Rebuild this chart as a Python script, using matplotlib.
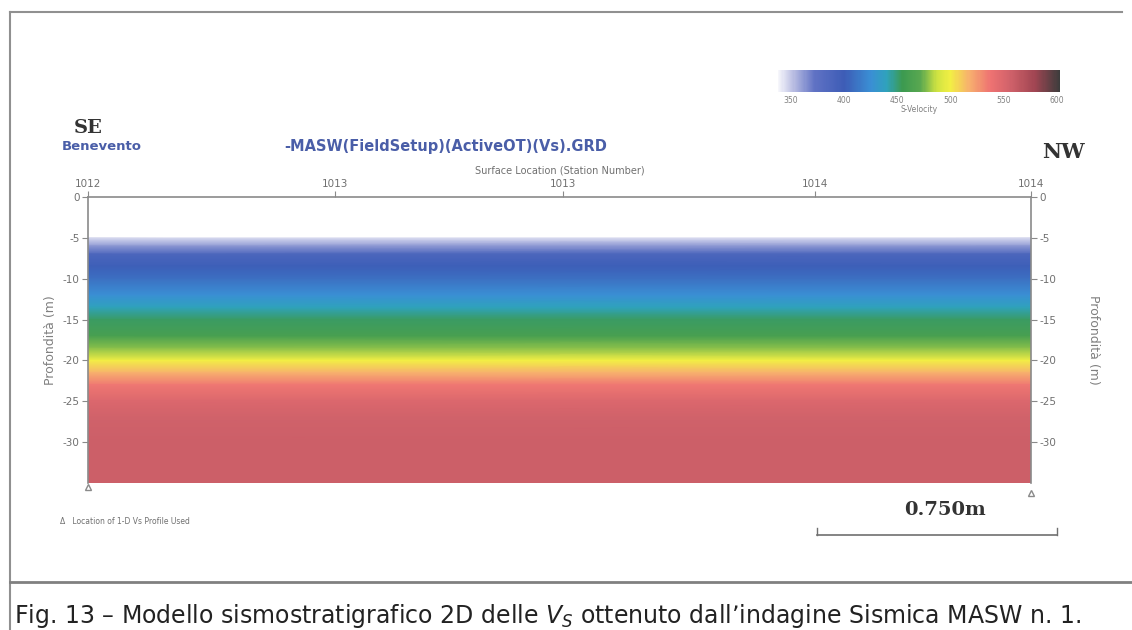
import matplotlib.pyplot as plt
from matplotlib.colors import LinearSegmentedColormap, Normalize
import numpy as np

# profilo Vs (m/s), costante lungo la sezione
profondita = [-5.0, -6.0, -7.0, -8.5, -10.0, -12.0, -13.5, -15.0, -17.0, -18.5,
              -20.0, -21.5, -23.0, -25.0, -27.0, -30.0, -35.0]
vs = [345, 362, 388, 402, 410, 425, 440, 452, 462, 478,
      500, 518, 536, 550, 556, 558, 558]

# stazioni (metri lungo lo stendimento) e etichette come nell'originale
stazioni = [0.0, 3.0]
tick_pos = [0.0, 0.786, 1.511, 2.313, 3.0]
tick_lab = ['1012', '1013', '1013', '1014', '1014']
yticks = [0, -5, -10, -15, -20, -25, -30]
cbar_ticks = [350, 400, 450, 500, 550, 600]

vmin, vmax = 338, 603
nodi = [(338, '#f6f6fb'), (352, '#b9bde2'), (372, '#6072c4'), (400, '#3d5cb6'),
        (425, '#3a8fd4'), (440, '#2fa2bc'), (455, '#3c9a50'), (472, '#5aa850'),
        (487, '#cde242'), (500, '#f2ef44'), (518, '#f7b06e'), (538, '#ee7272'),
        (555, '#d3636b'), (580, '#a04552'), (603, '#3c3c3c')]
cmap = LinearSegmentedColormap.from_list(
    'vs', [((v - vmin) / (vmax - vmin), c) for v, c in nodi])
norm = Normalize(vmin, vmax)

fig = plt.figure(figsize=(11.32, 6.3), dpi=100)
fig.patch.set_facecolor('white')

ax = fig.add_axes([88 / 1132, 1 - 483 / 630, 943 / 1132, 286 / 630])
z = np.array(vs, dtype=float)[:, None] * np.ones((1, 2))
ax.pcolormesh(stazioni, profondita, z, cmap=cmap, norm=norm, shading='gouraud')
ax.set_xlim(stazioni[0], stazioni[-1])
ax.set_ylim(-35, 0)

grigio = '#8a8a8a'
for s in ['left', 'right', 'top']:
    ax.spines[s].set_color(grigio)
    ax.spines[s].set_linewidth(1.2)
ax.spines['bottom'].set_visible(False)

ax.xaxis.tick_top()
ax.set_xticks(tick_pos)
ax.set_xticklabels(tick_lab)
ax.set_yticks(yticks)
ax.set_yticklabels([str(t) for t in yticks])
ax.tick_params(axis='both', colors=grigio, labelcolor='#707070', labelsize=7.5,
               length=4, width=0.8, pad=2)
ax.tick_params(axis='y', left=True, right=True, labelleft=True, labelright=True)
ax.tick_params(axis='x', bottom=False)
ax.set_xlabel('Surface Location (Station Number)', fontsize=7, color='#707070',
              labelpad=4)
ax.xaxis.set_label_position('top')
ax.set_ylabel('Profondità (m)', fontsize=9, color='#808080', labelpad=4)
ax2 = ax.secondary_yaxis('right')
ax2.set_yticks([])
ax2.spines['right'].set_visible(False)
ax2.set_ylabel('Profondità (m)', fontsize=9, color='#808080', rotation=270,
               labelpad=50)

# punti dei profili 1-D
ax.plot([stazioni[0], stazioni[-1]], [-35.5, -36.2], linestyle='none', marker='^',
        markersize=5, markerfacecolor='white', markeredgecolor=grigio, clip_on=False)

# barra colori
cax = fig.add_axes([778 / 1132, 1 - 92 / 630, 282 / 1132, 22 / 630])
cb = fig.colorbar(plt.cm.ScalarMappable(norm=norm, cmap=cmap), cax=cax,
                  orientation='horizontal', ticks=cbar_ticks)
cb.outline.set_visible(False)
cax.tick_params(labelsize=5.5, colors='#808080', length=0, pad=3)
cb.set_label('S-Velocity', fontsize=5.5, color='#808080', labelpad=0)

blu = '#4a5ea8'
fig.text(88 / 1132, 1 - 128 / 630, 'SE', fontsize=14, fontweight='bold',
         family='DejaVu Serif', color='#333333', ha='center', va='center')
fig.text(102 / 1132, 1 - 146 / 630, 'Benevento', fontsize=9.5, fontweight='bold',
         color=blu, ha='center', va='center')
fig.text(446 / 1132, 1 - 146 / 630, '-MASW(FieldSetup)(ActiveOT)(Vs).GRD',
         fontsize=10.5, fontweight='bold', color=blu, ha='center', va='center')
fig.text(1063 / 1132, 1 - 152 / 630, 'NW', fontsize=15, fontweight='bold',
         family='DejaVu Serif', color='#333333', ha='center', va='center')
fig.text(60 / 1132, 1 - 522 / 630, '\u0394   Location of 1-D Vs Profile Used',
         fontsize=5.5, color='#707070', ha='left', va='center')

# scala grafica
fig.text(945 / 1132, 1 - 510 / 630, '0.750m', fontsize=14, fontweight='bold',
         family='DejaVu Serif', color='#333333', ha='center', va='center')
fig.add_artist(plt.Line2D([817 / 1132, 1057 / 1132], [1 - 535 / 630] * 2,
                          color='#707070', lw=1.2))
for xs in [817, 1057]:
    fig.add_artist(plt.Line2D([xs / 1132] * 2, [1 - 535 / 630, 1 - 528 / 630],
                              color='#707070', lw=1.0))

# cornice e didascalia
fig.add_artist(plt.Line2D([10 / 1132, 10 / 1132], [1 - 12 / 630, 0],
                          color='#909090', lw=1.5))
fig.add_artist(plt.Line2D([10 / 1132, 1122 / 1132], [1 - 12 / 630] * 2,
                          color='#909090', lw=1.5))
fig.add_artist(plt.Line2D([10 / 1132, 1132 / 1132], [1 - 582 / 630] * 2,
                          color='#808080', lw=2.0))
fig.text(14 / 1132, 1 - 616 / 630,
         'Fig. 13 \u2013 Modello sismostratigrafico 2D delle $V_S$ ottenuto '
         'dall\u2019indagine Sismica MASW n. 1.',
         fontsize=17, color='#222222', ha='left', va='center')

fig.savefig('out.png', dpi=100)
